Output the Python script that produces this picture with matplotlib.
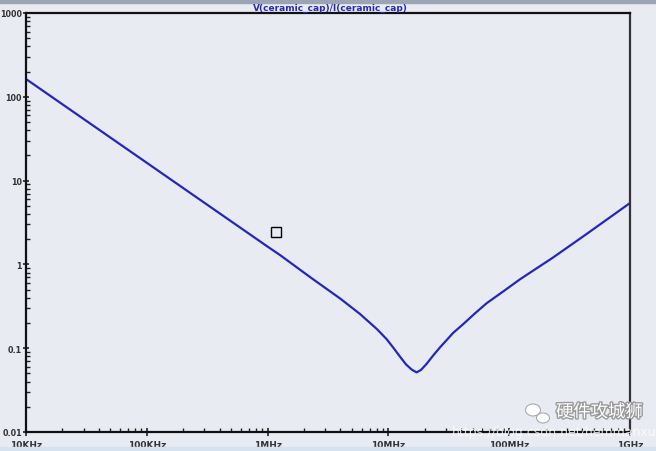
import matplotlib
matplotlib.use("Agg")
import matplotlib.pyplot as plt
import matplotlib.patheffects as pe
from matplotlib.patches import Ellipse
from matplotlib.ticker import FixedLocator, FixedFormatter, LogLocator, NullFormatter

# values (Hz, ohm)
freq = [1e4, 1e5, 1e6, 1.27e6, 2.24e6, 4.0e6, 5.82e6, 8.0e6, 9.68e6, 11.0e6,
        12.5e6, 14.0e6, 15.6e6, 17.1e6, 18.6e6, 20.7e6, 23.5e6, 26.7e6,
        34.3e6, 41.5e6, 52.0e6, 65.2e6, 90.0e6, 123e6, 231e6, 438e6, 1e9]
impedance = [163, 16.3, 1.63, 1.29, 0.708, 0.39, 0.256, 0.170, 0.128, 0.101,
             0.079, 0.064, 0.0555, 0.0515, 0.055, 0.065, 0.082, 0.102,
             0.152, 0.193, 0.26, 0.345, 0.48, 0.665, 1.21, 2.31, 5.4]

cursor_f = [1.17e6]
cursor_z = [2.44]

x_ticks = [1e4, 1e5, 1e6, 1e7, 1e8, 1e9]
x_labels = ["10KHz", "100KHz", "1MHz", "10MHz", "100MHz", "1GHz"]
y_ticks = [0.01, 0.1, 1, 10, 100, 1000]
y_labels = ["0.01", "0.1", "1", "10", "100", "1000"]

bg = "#e9ebf3"
fig = plt.figure(figsize=(6.56, 4.52), dpi=100, facecolor=bg)
ax = fig.add_axes([26 / 656, 1 - 433 / 452, (630 - 26) / 656, (433 - 14) / 452])
ax.set_facecolor(bg)

ax.plot(freq, impedance, color="#2626bb", lw=1.6)
ax.plot(cursor_f, cursor_z, marker="s", ms=7, mfc="none", mec="black", mew=1.0, ls="none")

ax.set_xscale("log")
ax.set_yscale("log")
ax.set_xlim(1e4, 1e9)
ax.set_ylim(0.01, 1000)

ax.xaxis.set_major_locator(FixedLocator(x_ticks))
ax.xaxis.set_major_formatter(FixedFormatter(x_labels))
ax.yaxis.set_major_locator(FixedLocator(y_ticks))
ax.yaxis.set_major_formatter(FixedFormatter(y_labels))
ax.xaxis.set_minor_locator(LogLocator(base=10, subs=range(2, 10), numticks=20))
ax.yaxis.set_minor_locator(LogLocator(base=10, subs=range(2, 10), numticks=20))
ax.xaxis.set_minor_formatter(NullFormatter())
ax.yaxis.set_minor_formatter(NullFormatter())

ax.tick_params(which="major", direction="inout", length=6, width=1.2,
               labelsize=6.5, colors="#222222", pad=1)
ax.tick_params(which="minor", direction="in", length=3, width=1.0, colors="#222222")
ax.tick_params(axis="x", which="major", pad=3)
ax.tick_params(axis="y", which="major", labelsize=5.8, length=5, pad=0.5)
for lab in ax.get_xticklabels() + ax.get_yticklabels():
    lab.set_fontweight("bold")
    lab.set_color("#333333")

for side in ["left", "bottom", "top"]:
    ax.spines[side].set_linewidth(1.6)
    ax.spines[side].set_color("#111111")
ax.spines["right"].set_linewidth(1.6)
ax.spines["right"].set_color("#333333")

# window chrome
fig.patches.append(plt.Rectangle((0, 1 - 4 / 452), 1, 4 / 452, transform=fig.transFigure,
                                 color="#9ba4b2", zorder=0))
fig.patches.append(plt.Rectangle((0, 0), 1, 4 / 452, transform=fig.transFigure,
                                 color="#d6e2f0", zorder=0))
fig.text(330 / 656, 1 - 8 / 452, "V(ceramic_cap)/I(ceramic_cap)", ha="center", va="center",
         fontsize=6.5, fontweight="bold", color="#2a2ab0")

# watermark
fig.text(452 / 656, 1 - 433 / 452, "https://blog.csdn.net/hemmanxu", ha="left", va="center",
         fontsize=9, color="white", alpha=0.8)
fig.text(556 / 656, 1 - 413 / 452, "硬件攻城狮", ha="left", va="center", fontsize=12.5,
         color="white", family=["Noto Sans CJK SC", "DejaVu Sans"],
         path_effects=[pe.withStroke(linewidth=2, foreground="#9a9a9a")])
for cx, cy, w, h in [(533, 411, 15, 12), (543, 419, 13, 10)]:
    fig.patches.append(Ellipse((cx / 656, 1 - cy / 452), w / 656, h / 452,
                               transform=fig.transFigure, facecolor="white",
                               edgecolor="#aaaaaa", lw=0.8, zorder=5))

fig.savefig("out.png", dpi=100, facecolor=bg)
